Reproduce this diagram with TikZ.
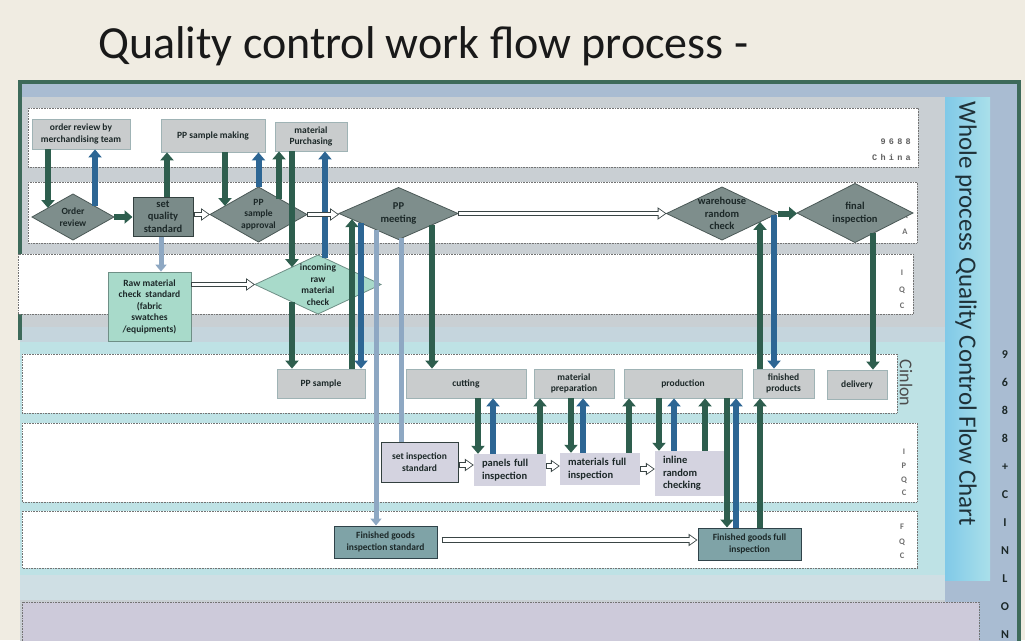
\documentclass[tikz,border=0pt]{standalone}
\usepackage{fontspec}
\setmainfont{Carlito}
\newfontfamily\monofam{Liberation Mono}
\usetikzlibrary{arrows.meta,shapes.geometric,calc}
\definecolor{bgc}{HTML}{F0ECE2}
\definecolor{frameg}{HTML}{3D6A5A}
\definecolor{graybg}{HTML}{C9CFD3}
\definecolor{steel}{HTML}{A9BCD2}
\definecolor{bluegray}{HTML}{C5D5DD}
\definecolor{cyanbg}{HTML}{BEE2E5}
\definecolor{palecyan}{HTML}{CFDFE4}
\definecolor{panelL}{HTML}{80C9E8}
\definecolor{panelR}{HTML}{AAE0EA}
\definecolor{lavlane}{HTML}{CDCADA}
\definecolor{boxgray}{HTML}{C9CCCD}
\definecolor{boxedge}{HTML}{9FB3B5}
\definecolor{sqsfill}{HTML}{7A8B89}
\definecolor{darkedge}{HTML}{33403F}
\definecolor{diafill}{HTML}{7E8E8C}
\definecolor{diaedge}{HTML}{4B5957}
\definecolor{mint}{HTML}{A8DACA}
\definecolor{mintedge}{HTML}{6E8F86}
\definecolor{lavbox}{HTML}{D4D3E0}
\definecolor{fqfill}{HTML}{7FA3A7}
\definecolor{fqedge}{HTML}{2F4249}
\definecolor{agreen}{HTML}{2E5E4E}
\definecolor{ablue}{HTML}{2D6694}
\definecolor{alight}{HTML}{8EA8C3}
\definecolor{hedge}{HTML}{3A4545}
\definecolor{txt}{HTML}{1C2828}
\definecolor{lanetxt}{HTML}{6E6E6E}
\definecolor{wtxt}{HTML}{1F3138}
\newcommand\lblf{\fontsize{9.5}{11.5}\selectfont\bfseries}
\newcommand\bigf{\fontsize{10.5}{12.5}\selectfont\bfseries}
\newcommand\mygap{\hspace{3.3pt}}
\tikzset{
  lane/.style={draw=black!55, densely dotted, line width=0.6pt, fill=white},
  gbox/.style={draw=boxedge, fill=boxgray, line width=0.8pt, inner sep=1pt, align=center, font=\lblf, text=txt},
  dbox/.style={draw=darkedge, fill=sqsfill, line width=1pt, inner sep=1pt, align=center, font=\bigf, text=txt},
  mbox/.style={draw=mintedge, fill=mint, line width=0.8pt, inner sep=1pt, align=center, font=\lblf, text=txt},
  lbox/.style={draw=darkedge, fill=lavbox, line width=1pt, inner sep=1pt, align=center, font=\lblf, text=txt},
  pbox/.style={fill=lavbox, inner xsep=8pt, inner ysep=1pt, align=left, font=\bigf, text=txt},
  fbox/.style={draw=fqedge, fill=fqfill, line width=1pt, inner sep=1pt, align=center, font=\lblf, text=txt},
  dia/.style={diamond, draw=diaedge, fill=diafill, line width=0.8pt, inner sep=0pt, outer sep=0pt},
  mdia/.style={dia, draw=mintedge, fill=mint},
  dl/.style={align=center, font=\lblf, text=txt, inner sep=0pt},
  dlb/.style={dl, font=\bigf},
  ga/.style={draw=agreen, line width=6pt, -{Triangle[width=13pt,length=8pt]}},
  ba/.style={ga, draw=ablue},
  la/.style={draw=alight, line width=5pt, -{Triangle[width=11pt,length=7pt]}},
  lbar/.style={draw=alight, line width=5pt},
  ha/.style={draw=hedge, line width=5.5pt, -{Triangle[width=12pt,length=9pt]},
    postaction={draw=white, line width=3.5pt, -{Triangle[width=8.5pt,length=6.3pt]}, shorten >=1.5pt, shorten <=1pt}},
  lanelbl/.style={font=\fontsize{8.5}{#1}\selectfont\bfseries, text=lanetxt, align=center, inner sep=0pt},
}
\begin{document}
\begin{tikzpicture}[x=1pt,y=-1pt]
\useasboundingbox (0,0) rectangle (1025,640);
\fill[bgc] (0,0) rectangle (1025,640);
% frame background
\fill[graybg] (20,83) rectangle (1020,660);
\fill[steel] (20,83) rectangle (1020,97);
\fill[steel] (990,83) rectangle (1020,660);
\fill[steel] (945,575) rectangle (990,660);
\fill[bluegray] (20,327) rectangle (945,342);
\fill[cyanbg] (20,342) rectangle (945,575);
\fill[palecyan] (20,575) rectangle (945,600);
\shade[left color=panelL, right color=panelR] (945,97) rectangle (990,580);
\draw[frameg, line width=4pt] (20,340) -- (20,82) -- (1019,82) -- (1019,660);
% lanes
\draw[lane] (28,108) rectangle (918,167);
\draw[lane] (28,182) rectangle (917,243);
\draw[lane] (18,254) rectangle (913,314);
\draw[lane] (22,354) rectangle (897,413);
\draw[lane] (22,423) rectangle (917,502);
\draw[lane] (22,511) rectangle (917,568);
\draw[lane, fill=lavlane] (22,602) rectangle (979,660);
% title and side texts
\node[anchor=base west, font=\fontsize{46}{50}\selectfont, text=black!90, inner sep=0pt] (title) at (98,58) {Quality control work flow process -};
\node[rotate=-90, font=\fontsize{25}{28}\selectfont, text=wtxt, inner sep=0pt] (wp) at (966,314) {Whole process Quality Control Flow Chart};
\node[font=\fontsize{12}{28}\selectfont\bfseries, text=txt, align=center, inner sep=0pt] (brand) at (1005,494.5) {9\\6\\8\\8\\+\\C\\I\\N\\L\\O\\N};
\node[rotate=-90, font=\fontsize{18}{20}\selectfont, text=black!70, inner sep=0pt] (cin) at (906,383) {Cinlon};
\node[font=\monofam\fontsize{8.5}{9}\selectfont\bfseries, text=black!62, anchor=east, inner sep=0pt] (n9688) at (911,142) {9\mygap 6\mygap 8\mygap 8};
\node[font=\monofam\fontsize{8.5}{9}\selectfont\bfseries, text=black!62, anchor=east, inner sep=0pt] (china) at (911,157) {C\mygap h\mygap i\mygap n\mygap a};
\node[lanelbl=17] (qa) at (905,223.5) {Q\\A};
\node[lanelbl=16.5] (iqc) at (902,289.5) {I\\Q\\C};
\node[lanelbl=13.7] (ipqc) at (904,472.5) {I\\P\\Q\\C};
\node[lanelbl=14.5] (fqc) at (902,541.5) {F\\Q\\C};
% top lane
\node[gbox, minimum width=98pt, minimum height=30pt] (orb) at (81,134) {order review by\\merchandising team};
\node[gbox, minimum width=104pt, minimum height=33pt] (ppm) at (213,135.5) {PP sample making};
\node[gbox, minimum width=72pt, minimum height=29pt] (mp) at (311,136.5) {material\\Purchasing};
% QA lane
\node[dia, minimum width=82pt, minimum height=46pt, label={[dl]center:{Order\\review}}] (ord) at (73,217) {};
\node[dbox, minimum width=60pt, minimum height=39pt] (sqs) at (163,216.5) {set\\quality\\standard};
\node[dia, minimum width=97pt, minimum height=55pt, label={[dl]center:{PP\\sample\\approval}}] (ppa) at (258.5,214.5) {};
\node[dia, minimum width=119pt, minimum height=52pt, label={[dlb]center:{PP\\meeting}}] (ppmeet) at (398.5,213.5) {};
\node[dia, minimum width=111pt, minimum height=53pt, label={[dlb]center:{warehouse\\random\\check}}] (wrc) at (722,213.5) {};
\node[dia, minimum width=116pt, minimum height=59pt, label={[dlb]center:{final\\inspection}}] (fi) at (855,213) {};
% IQC lane
\node[mbox, minimum width=83pt, minimum height=69pt] (rmcs) at (149.5,306.5) {Raw material\\check\ \ standard\\(fabric\\swatches\\/equipments)};
\node[mdia, minimum width=126pt, minimum height=59pt, label={[dl]center:{incoming\\raw\\material\\check}}] (irmc) at (318,284.5) {};
% Cinlon lane
\node[gbox, minimum width=88pt, minimum height=29pt] (pps) at (321,383.5) {PP sample};
\node[gbox, minimum width=120pt, minimum height=29pt] (cut) at (466,383.5) {cutting};
\node[gbox, minimum width=80pt, minimum height=29pt] (mprep) at (574,383.5) {material\\preparation};
\node[gbox, minimum width=118pt, minimum height=29pt] (prod) at (683,383.5) {production};
\node[gbox, minimum width=61pt, minimum height=29pt] (fp) at (783.5,383.5) {finished\\products};
\node[gbox, minimum width=60pt, minimum height=29pt] (del) at (857,384.5) {delivery};
% IPQC lane
\node[lbox, minimum width=77pt, minimum height=40pt] (sis) at (419.5,462) {set inspection\\standard};
\node[pbox, text width=56pt, minimum height=32pt] (pfi) at (510,470) {panels full\\inspection};
\node[pbox, text width=64pt, minimum height=32pt] (mfi) at (600,469) {materials full\\inspection};
\node[pbox, text width=53pt, minimum height=45pt] (irc) at (689.5,473.5) {inline\\random\\checking};
% FQC lane
\node[fbox, minimum width=103pt, minimum height=32pt] (fgis) at (385.5,542) {Finished goods\\inspection standard};
\node[fbox, minimum width=103pt, minimum height=32pt] (fgfi) at (749.5,544) {Finished goods full\\inspection};
% border points on diamonds
\coordinate (o48) at ($(ord.north)!0.610!(ord.west)$);
\coordinate (o95) at ($(ord.north)!0.537!(ord.east)$);
\coordinate (a225) at ($(ppa.north)!0.691!(ppa.west)$);
\coordinate (a279) at ($(ppa.north)!0.423!(ppa.east)$);
\coordinate (i292t) at ($(irmc.north)!0.413!(irmc.west)$);
\coordinate (i292b) at ($(irmc.south)!0.413!(irmc.west)$);
\coordinate (i325) at ($(irmc.north)!0.111!(irmc.east)$);
\coordinate (m352) at ($(ppmeet.south)!0.782!(ppmeet.west)$);
\coordinate (m361) at ($(ppmeet.south)!0.630!(ppmeet.west)$);
\coordinate (m376) at ($(ppmeet.south)!0.378!(ppmeet.west)$);
\coordinate (m401) at ($(ppmeet.south)!0.042!(ppmeet.east)$);
\coordinate (m432) at ($(ppmeet.south)!0.563!(ppmeet.east)$);
\coordinate (w760) at ($(wrc.south)!0.685!(wrc.east)$);
\coordinate (w774) at ($(wrc.south)!0.937!(wrc.east)$);
\coordinate (f873) at ($(fi.south)!0.310!(fi.east)$);
% vertical arrows
\draw[ga] (orb.south -| o48) -- (o48);
\draw[ba] (o95) -- (orb.south -| o95);
\draw[ga] (sqs.north -| 167,0) -- (ppm.south -| 167,0);
\draw[ga] (ppm.south -| a225) -- (a225);
\draw[ba] (ppa.north) -- (ppm.south -| ppa.north);
\draw[ga] (a279) -- (mp.south -| a279);
\draw[ga] (mp.south -| i292t) -- (i292t);
\draw[ba] (i325) -- (mp.south -| i325);
\draw[ga] (i292b) -- (pps.north -| i292b);
\draw[ga] (pps.north -| m352) -- (m352);
\draw[ba] (m361) -- (pps.north -| m361);
\draw[la] (m376) -- (fgis.north -| m376);
\draw[lbar] (m401) -- (sis.north -| m401);
\draw[la] (sqs.south -| 161,0) -- (rmcs.north -| 161,0);
\draw[ga] (m432) -- (cut.north -| m432);
\draw[ga] (cut.south -| 478,0) -- (pfi.north -| 478,0);
\draw[ba] (pfi.north -| 493,0) -- (cut.south -| 493,0);
\draw[ga] (pfi.north -| 540,0) -- (mprep.south -| 540,0);
\draw[ga] (mprep.south -| 571,0) -- (mfi.north -| 571,0);
\draw[ba] (mfi.north -| 583,0) -- (mprep.south -| 583,0);
\draw[ga] (mfi.north -| 629,0) -- (prod.south -| 629,0);
\draw[ga] (prod.south -| 659,0) -- (irc.north -| 659,0);
\draw[ba] (irc.north -| 674,0) -- (prod.south -| 674,0);
\draw[ga] (irc.north -| 705,0) -- (prod.south -| 705,0);
\draw[ga] (prod.south -| 727,0) -- (fgfi.north -| 727,0);
\draw[ba] (fgfi.north -| 736,0) -- (prod.south -| 736,0);
\draw[ga] (fgfi.north -| 760,0) -- (fp.south -| 760,0);
\draw[ga] (fp.north -| w760) -- (w760);
\draw[ba] (w774) -- (fp.north -| w774);
\draw[ga] (f873) -- (del.north -| f873);
% horizontal arrows
\draw[ga] (ord.east) -- (ord.east -| sqs.west);
\draw[ha] (sqs.east |- ppa.west) -- (ppa.west);
\draw[ha] (ppa.east) -- (ppa.east -| ppmeet.west);
\draw[ha] (ppmeet.east) -- (wrc.west);
\draw[ga] (wrc.east) -- (wrc.east -| fi.west);
\draw[ha] (rmcs.east |- irmc.west) -- (irmc.west);
\draw[ha] (sis.east |- 0,465) -- (pfi.west |- 0,465);
\draw[ha] (pfi.east |- 0,466) -- (mfi.west |- 0,466);
\draw[ha] (mfi.east) -- (mfi.east -| irc.west);
\draw[ha] ($(fgis.east |- 0,540)+(4,0)$) -- (fgfi.west |- 0,540);
\end{tikzpicture}
\end{document}
